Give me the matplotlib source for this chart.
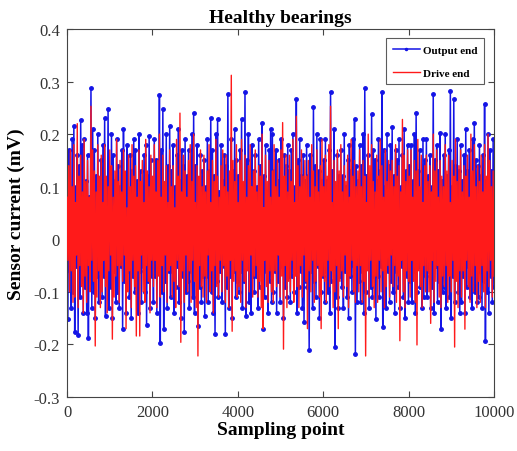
import numpy as np
import matplotlib
matplotlib.use("Agg")
import matplotlib.pyplot as plt
from matplotlib.ticker import FuncFormatter

# ---- data ----
n_samples = 10000
output_end = [
    0.12, -0.152, 0.17, -0.06, 0.09, -0.13, 0.19, -0.10, 0.215, -0.177, 0.10, -0.05, 0.16, -0.182, 0.14, -0.11, 0.226, -0.08, 0.18, -0.14,
    0.19, -0.09, 0.11, -0.14, 0.16, -0.187, 0.08, -0.06, 0.287, -0.13, 0.21, -0.10, 0.17, -0.15, 0.12, -0.07, 0.20, -0.12, 0.10, -0.04,
    0.15, -0.11, 0.18, -0.07, 0.23, -0.146, 0.09, -0.05, 0.247, -0.13, 0.13, -0.09, 0.20, -0.15, 0.16, -0.06, 0.11, -0.12, 0.19, -0.10,
    0.14, -0.13, 0.10, -0.05, 0.17, -0.171, 0.21, -0.08, 0.12, -0.14, 0.18, -0.06, 0.09, -0.11, 0.16, -0.15, 0.13, -0.07, 0.19, -0.10,
    0.17, -0.09, 0.11, -0.14, 0.20, -0.06, 0.13, -0.12, 0.09, -0.05, 0.16, -0.10, 0.18, -0.163, 0.12, -0.08, 0.196, -0.13, 0.15, -0.07,
    0.10, -0.12, 0.19, -0.07, 0.15, -0.14, 0.12, -0.05, 0.274, -0.198, 0.17, -0.10, 0.247, -0.171, 0.09, -0.08, 0.20, -0.13, 0.14, -0.06,
    0.215, -0.11, 0.13, -0.06, 0.18, -0.14, 0.10, -0.09, 0.16, -0.05, 0.21, -0.12, 0.11, -0.15, 0.17, -0.07, 0.14, -0.177, 0.19, -0.10,
    0.12, -0.08, 0.17, -0.13, 0.09, -0.06, 0.20, -0.11, 0.24, -0.14, 0.14, -0.05, 0.18, -0.165, 0.11, -0.09, 0.16, -0.12, 0.13, -0.07,
    0.15, -0.146, 0.10, -0.07, 0.19, -0.12, 0.13, -0.05, 0.23, -0.10, 0.17, -0.14, 0.12, -0.181, 0.20, -0.08, 0.228, -0.11, 0.09, -0.06,
    0.18, -0.12, 0.11, -0.05, 0.16, -0.18, 0.14, -0.09, 0.277, -0.13, 0.10, -0.07, 0.19, -0.15, 0.13, -0.06, 0.21, -0.11, 0.15, -0.08,
    0.12, -0.10, 0.17, -0.06, 0.228, -0.13, 0.09, -0.08, 0.28, -0.146, 0.15, -0.05, 0.20, -0.12, 0.11, -0.14, 0.18, -0.07, 0.13, -0.10,
    0.16, -0.07, 0.10, -0.13, 0.19, -0.09, 0.14, -0.05, 0.222, -0.171, 0.12, -0.11, 0.18, -0.06, 0.09, -0.14, 0.17, -0.08, 0.21, -0.12,
    0.20, -0.10, 0.13, -0.06, 0.17, -0.14, 0.11, -0.08, 0.15, -0.12, 0.19, -0.05, 0.10, -0.15, 0.16, -0.09, 0.14, -0.11, 0.18, -0.07,
    0.13, -0.12, 0.17, -0.07, 0.20, -0.10, 0.10, -0.05, 0.266, -0.14, 0.15, -0.09, 0.19, -0.06, 0.12, -0.13, 0.16, -0.158, 0.11, -0.08,
    0.18, -0.09, 0.12, -0.211, 0.16, -0.06, 0.10, -0.13, 0.252, -0.08, 0.14, -0.11, 0.20, -0.05, 0.13, -0.15, 0.19, -0.10, 0.11, -0.07,
    0.15, -0.12, 0.19, -0.06, 0.11, -0.10, 0.17, -0.14, 0.28, -0.08, 0.13, -0.05, 0.21, -0.205, 0.09, -0.11, 0.16, -0.13, 0.12, -0.07,
    0.17, -0.09, 0.12, -0.13, 0.20, -0.06, 0.10, -0.11, 0.15, -0.15, 0.18, -0.07, 0.13, -0.10, 0.19, -0.05, 0.228, -0.219, 0.14, -0.12,
    0.11, -0.08, 0.18, -0.12, 0.14, -0.06, 0.20, -0.14, 0.287, -0.10, 0.12, -0.05, 0.16, -0.13, 0.10, -0.09, 0.238, -0.11, 0.17, -0.07,
    0.15, -0.152, 0.11, -0.07, 0.19, -0.11, 0.13, -0.05, 0.28, -0.167, 0.17, -0.09, 0.10, -0.13, 0.20, -0.06, 0.14, -0.12, 0.18, -0.08,
    0.213, -0.10, 0.12, -0.14, 0.17, -0.06, 0.15, -0.09, 0.19, -0.13, 0.10, -0.05, 0.16, -0.11, 0.21, -0.15, 0.13, -0.07, 0.18, -0.12,
    0.14, -0.08, 0.18, -0.12, 0.11, -0.06, 0.20, -0.14, 0.24, -0.10, 0.13, -0.05, 0.17, -0.09, 0.09, -0.13, 0.19, -0.11, 0.15, -0.07,
    0.19, -0.11, 0.12, -0.06, 0.16, -0.13, 0.10, -0.09, 0.276, -0.14, 0.15, -0.05, 0.18, -0.12, 0.13, -0.08, 0.203, -0.17, 0.11, -0.10,
    0.16, -0.09, 0.20, -0.13, 0.12, -0.06, 0.17, -0.11, 0.282, -0.15, 0.10, -0.07, 0.266, -0.12, 0.14, -0.05, 0.19, -0.10, 0.13, -0.14,
    0.18, -0.12, 0.11, -0.07, 0.16, -0.14, 0.21, -0.09, 0.13, -0.05, 0.17, -0.11, 0.10, -0.13, 0.19, -0.06, 0.222, -0.10, 0.15, -0.12,
    0.14, -0.11, 0.18, -0.06, 0.12, -0.13, 0.16, -0.08, 0.257, -0.193, 0.11, -0.10, 0.20, -0.14, 0.17, -0.07, 0.13, -0.12, 0.19, -0.09,
]
drive_end = [
    0.08, -0.04, 0.14, -0.10, 0.17, -0.06, 0.10, -0.12, 0.18, -0.11, 0.07, -0.03, 0.22, -0.13, 0.12, -0.05, 0.16, -0.09, 0.09, -0.14,
    0.19, -0.07, 0.11, -0.12, 0.15, -0.05, 0.08, -0.10, 0.253, -0.04, 0.17, -0.08, 0.13, -0.203, 0.09, -0.11, 0.18, -0.06, 0.12, -0.13,
    0.16, -0.10, 0.07, -0.04, 0.18, -0.09, 0.12, -0.14, 0.10, -0.06, 0.17, -0.03, 0.14, -0.19, 0.08, -0.11, 0.13, -0.07, 0.19, -0.05,
    0.11, -0.12, 0.15, -0.05, 0.09, -0.08, 0.17, -0.03, 0.13, -0.17, 0.06, -0.10, 0.16, -0.06, 0.10, -0.13, 0.18, -0.04, 0.12, -0.09,
    0.14, -0.184, 0.08, -0.06, 0.17, -0.184, 0.11, -0.03, 0.15, -0.10, 0.07, -0.12, 0.19, -0.05, 0.13, -0.08, 0.10, -0.14, 0.16, -0.04,
    0.12, -0.09, 0.18, -0.04, 0.09, -0.13, 0.15, -0.07, 0.20, -0.11, 0.08, -0.05, 0.16, -0.10, 0.11, -0.03, 0.14, -0.12, 0.07, -0.06,
    0.17, -0.05, 0.10, -0.11, 0.14, -0.08, 0.06, -0.13, 0.19, -0.04, 0.12, -0.09, 0.24, -0.196, 0.09, -0.06, 0.16, -0.12, 0.13, -0.03,
    0.08, -0.10, 0.15, -0.06, 0.18, -0.12, 0.11, -0.04, 0.20, -0.08, 0.07, -0.13, 0.14, -0.222, 0.12, -0.05, 0.17, -0.09, 0.10, -0.11,
    0.16, -0.07, 0.09, -0.12, 0.13, -0.03, 0.18, -0.10, 0.07, -0.06, 0.15, -0.14, 0.11, -0.05, 0.19, -0.09, 0.12, -0.11, 0.08, -0.04,
    0.14, -0.10, 0.17, -0.05, 0.10, -0.12, 0.16, -0.07, 0.09, -0.13, 0.13, -0.04, 0.312, -0.175, 0.15, -0.08, 0.11, -0.06, 0.18, -0.11,
    0.07, -0.09, 0.15, -0.12, 0.19, -0.04, 0.11, -0.08, 0.16, -0.13, 0.08, -0.06, 0.14, -0.10, 0.18, -0.03, 0.10, -0.11, 0.13, -0.07,
    0.17, -0.05, 0.09, -0.11, 0.14, -0.08, 0.12, -0.13, 0.20, -0.17, 0.06, -0.04, 0.16, -0.09, 0.11, -0.12, 0.15, -0.06, 0.08, -0.10,
    0.13, -0.12, 0.18, -0.06, 0.10, -0.09, 0.15, -0.03, 0.08, -0.11, 0.17, -0.07, 0.222, -0.209, 0.12, -0.05, 0.16, -0.13, 0.09, -0.08,
    0.16, -0.10, 0.11, -0.04, 0.19, -0.12, 0.07, -0.07, 0.234, -0.09, 0.14, -0.13, 0.10, -0.05, 0.17, -0.11, 0.12, -0.03, 0.15, -0.08,
    0.12, -0.17, 0.15, -0.06, 0.08, -0.10, 0.18, -0.04, 0.13, -0.12, 0.10, -0.08, 0.17, -0.05, 0.09, -0.11, 0.14, -0.17, 0.19, -0.07,
    0.10, -0.08, 0.16, -0.12, 0.12, -0.04, 0.18, -0.09, 0.253, -0.06, 0.07, -0.13, 0.15, -0.10, 0.11, -0.05, 0.17, -0.17, 0.13, -0.08,
    0.18, -0.06, 0.09, -0.11, 0.14, -0.03, 0.11, -0.09, 0.16, -0.13, 0.08, -0.07, 0.19, -0.04, 0.12, -0.10, 0.15, -0.12, 0.10, -0.05,
    0.13, -0.10, 0.17, -0.05, 0.10, -0.12, 0.15, -0.08, 0.12, -0.222, 0.07, -0.06, 0.20, -0.11, 0.14, -0.04, 0.18, -0.09, 0.11, -0.13,
    0.09, -0.07, 0.16, -0.12, 0.12, -0.04, 0.19, -0.10, 0.14, -0.06, 0.08, -0.13, 0.17, -0.09, 0.11, -0.05, 0.15, -0.11, 0.13, -0.03,
    0.15, -0.09, 0.10, -0.05, 0.18, -0.12, 0.12, -0.07, 0.14, -0.193, 0.09, -0.04, 0.228, -0.10, 0.16, -0.13, 0.11, -0.06, 0.17, -0.08,
    0.12, -0.11, 0.17, -0.04, 0.08, -0.08, 0.15, -0.12, 0.13, -0.201, 0.19, -0.06, 0.10, -0.09, 0.16, -0.13, 0.07, -0.05, 0.14, -0.10,
    0.16, -0.06, 0.11, -0.10, 0.14, -0.16, 0.09, -0.04, 0.20, -0.12, 0.13, -0.08, 0.17, -0.05, 0.08, -0.11, 0.15, -0.13, 0.12, -0.07,
    0.10, -0.09, 0.18, -0.05, 0.13, -0.12, 0.16, -0.07, 0.07, -0.10, 0.15, -0.04, 0.12, -0.205, 0.19, -0.08, 0.11, -0.13, 0.14, -0.06,
    0.17, -0.11, 0.09, -0.06, 0.14, -0.171, 0.12, -0.04, 0.16, -0.09, 0.08, -0.12, 0.20, -0.07, 0.13, -0.10, 0.18, -0.05, 0.10, -0.13,
    0.14, -0.08, 0.11, -0.12, 0.16, -0.05, 0.09, -0.10, 0.18, -0.13, 0.12, -0.06, 0.20, -0.09, 0.15, -0.04, 0.10, -0.11, 0.13, -0.07,
]
series_labels = ["Output end", "Drive end"]
x_ticks = [0, 2000, 4000, 6000, 8000, 10000]
y_ticks = [-0.3, -0.2, -0.1, 0, 0.1, 0.2, 0.3, 0.4]
title = "Healthy bearings"
x_label = "Sampling point"
y_label = "Sensor current (mV)"

# ---- plot ----
plt.rcParams['font.family'] = ['Liberation Serif', 'DejaVu Serif']
fig = plt.figure(figsize=(5.17, 4.52), dpi=100)
ax = fig.add_axes([0.1296, 0.1195, 0.8259, 0.8141])

x_out = np.linspace(0, n_samples, len(output_end))
x_drv = np.linspace(0, n_samples, len(drive_end))
ax.plot(x_out, output_end, color='#1414e6', lw=1.1, marker='.', ms=5,
        label=series_labels[0], zorder=2)
ax.plot(x_drv, drive_end, color='#ff1a1a', lw=1.0, label=series_labels[1], zorder=3)

ax.set_xlim(0, n_samples)
ax.set_ylim(-0.3, 0.4)
ax.set_xticks(x_ticks)
ax.set_yticks(y_ticks)
ax.yaxis.set_major_formatter(FuncFormatter(lambda v, p: "0" if abs(v) < 1e-9 else f"{v:g}"))
ax.tick_params(direction='in', top=True, right=True, labelsize=12, length=4,
               color='#444444', labelcolor='#333333', pad=5)
for s in ax.spines.values():
    s.set_color('#444444')
    s.set_linewidth(0.8)

ax.set_title(title, fontsize=14, fontweight='bold', pad=5)
ax.set_xlabel(x_label, fontsize=14, fontweight='bold', labelpad=1)
ax.set_ylabel(y_label, fontsize=14, fontweight='bold', labelpad=6)

leg = ax.legend(loc='upper right', prop={'weight': 'bold', 'size': 8},
                frameon=True, fancybox=False, edgecolor='#333333',
                handlelength=2.4, handletextpad=0.3, borderpad=0.6, labelspacing=1.2,
                bbox_to_anchor=(0.99, 0.99))
leg.get_frame().set_linewidth(0.8)
leg.legend_handles[0].set_markersize(3)

fig.savefig("out.png", dpi=100)
